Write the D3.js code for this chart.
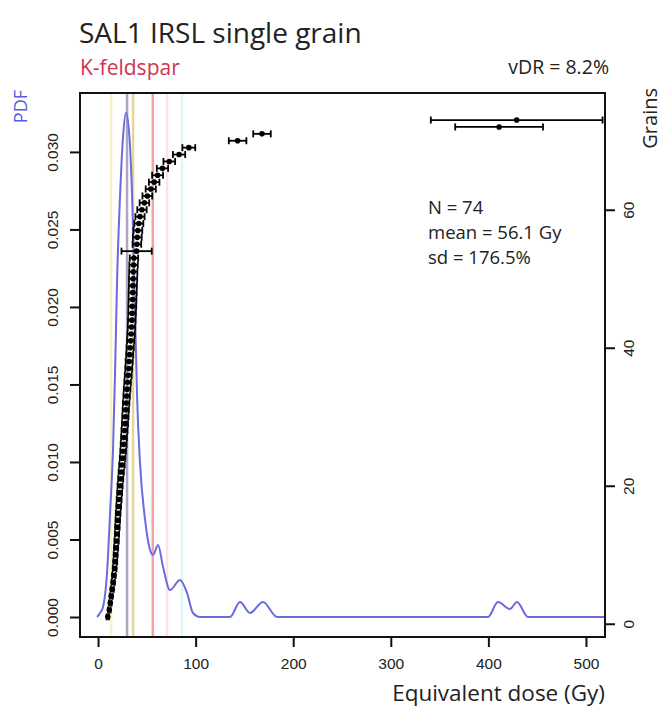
<!DOCTYPE html>
<html>
<head>
<meta charset="utf-8">
<script src="https://cdn.jsdelivr.net/npm/d3@7"></script>
<style>
  body { margin: 0; background: #fff; }
  text { font-family: "Open Sans", sans-serif; }
  .tick text { font-family: "Liberation Sans", Arial, sans-serif; font-size: 15.5px; fill: #222; }
</style>
</head>
<body>
<div id="chart"></div>
<script>
// ranked single grain De (Gy) and 1-sigma errors, grain 1 at the bottom
const doses = [10, 11.5, 12.5, 13.5, 14.5, 15.5, 16.2, 17, 17.6, 18, 18.5, 19, 19.4, 19.8,
  20.2, 20.6, 21.1, 21.6, 22.1, 22.6, 23.2, 23.8, 24.5, 25.1, 25.7, 26.2, 26.6, 27.1, 27.6,
  28, 28.4, 28.8, 29.3, 29.8, 30.3, 30.9, 31.4, 31.9, 32.4, 32.9, 33.4, 33.9, 34.3, 34.6,
  34.9, 35.1, 35.3, 35.5, 35.7, 35.9, 36.1, 36.4, 36.8, 39.5, 39.8, 40.2, 40.8, 41.8, 43,
  45, 47.5, 50.5, 54, 57.5, 61, 66, 73, 83, 93, 143, 168, 411, 429, 760]
const errors = [1.2, 1.3, 1.4, 1.5, 1.6, 1.7, 1.8, 1.9, 2, 2, 2.1, 2.2, 2.2, 2.3, 2.3, 2.4,
  2.4, 2.5, 2.5, 2.6, 2.6, 2.7, 2.8, 2.8, 2.9, 3, 3, 3.1, 3.1, 3.2, 3.2, 3.3, 3.3, 3.4, 3.4,
  3.5, 3.5, 3.6, 3.6, 3.7, 3.7, 3.8, 3.8, 3.9, 3.9, 4, 4, 4.1, 4.1, 4.2, 4.2, 4.3, 4.3, 15.5,
  4.4, 4.5, 4.5, 4.6, 4.7, 4.8, 4.9, 5, 5.2, 5.4, 5.6, 5.8, 6, 6.3, 6.6, 9, 9, 45, 88, 95]

// kernel density curve
const kdeDose = [-1, 2, 5.1, 9.2, 12.3, 15.4, 17.4, 19.5, 22.5, 25.6, 28.7, 32.8, 35.9, 37.9,
  40, 43, 48.2, 53.3, 56.4, 61.5, 66.6, 73.8, 84, 91.2, 97.3, 104.5, 135.2, 145.5, 155.7,
  169.1, 183.4, 399.6, 409.8, 422.1, 429.3, 440.6, 519.5]
const kdeDensity = [0, 0.00026, 0.00065, 0.00284, 0.00671, 0.01097, 0.01574, 0.02174, 0.0271,
  0.03097, 0.03252, 0.03032, 0.02497, 0.01961, 0.01419, 0.00994, 0.00626, 0.00432, 0.004,
  0.00465, 0.00323, 0.00174, 0.00239, 0.00155, 0.00026, 0, 0, 0.00097, 0.00026, 0.00097, 0,
  0, 0.00097, 0.00052, 0.00097, 0, 0]

// vertical statistic lines (Gy) and their colours
const statDose = [13.3, 29.7, 35.9, 56.1, 70.7, 86]
const statColor = ["#fbf3c8", "#aaa6c4", "#e4d79c", "#f4a2a2", "#fde2ea", "#dcf6fa"]

// tick labels
const doseTicks = [0, 100, 200, 300, 400, 500]
const pdfTicks = [0, 0.005, 0.010, 0.015, 0.020, 0.025, 0.030]
const grainTicks = [0, 20, 40, 60]
const statsText = ["N = 74", "mean = 56.1 Gy", "sd = 176.5%"]

let width = 669,
    height = 715,
    plot = { left: 80, right: 605, top: 93, bottom: 637 }

let svg = d3.select("#chart")
    .append("svg")
    .attr("width", width)
    .attr("height", height)

//scales
let x = d3.scaleLinear().domain([-18.5, 519.5]).range([plot.left, plot.right])
let yPdf = d3.scaleLinear().domain([-0.00129, 0.0338]).range([plot.bottom, plot.top])
let yGrain = d3.scaleLinear().domain([-1.92, 76.92]).range([plot.bottom, plot.top])

svg.append("clipPath")
    .attr("id", "clip")
    .append("rect")
    .attr("x", plot.left)
    .attr("y", plot.top)
    .attr("width", plot.right - plot.left)
    .attr("height", plot.bottom - plot.top)

let inner = svg.append("g").attr("clip-path", "url(#clip)")

//statistic lines
inner.selectAll(".stat")
    .data(statDose)
    .enter()
    .append("line")
    .attr("class", "stat")
    .attr("x1", d => x(d))
    .attr("x2", d => x(d))
    .attr("y1", plot.top)
    .attr("y2", plot.bottom)
    .style("stroke", (d, i) => statColor[i])
    .style("stroke-width", 2.5)

//pdf curve
let kde = kdeDose.map((d, i) => [d, kdeDensity[i]])
inner.append("path")
    .datum(kde)
    .attr("d", d3.line()
        .x(d => x(d[0]))
        .y(d => yPdf(d[1]))
        .curve(d3.curveMonotoneX))
    .style("fill", "none")
    .style("stroke", "#6b6bdf")
    .style("stroke-width", 2)

//error bars and points
let grains = doses.map((d, i) => ({ rank: i + 1, de: d, err: errors[i] }))
let bars = inner.selectAll(".grain")
    .data(grains)
    .enter()
    .append("g")
    .attr("class", "grain")
    .attr("transform", d => `translate(0,${yGrain(d.rank)})`)

bars.append("line")
    .attr("x1", d => x(d.de - d.err))
    .attr("x2", d => x(d.de + d.err))
    .style("stroke", "#000")
    .style("stroke-width", 1.8)
bars.selectAll(".cap")
    .data(d => [d.de - d.err, d.de + d.err])
    .enter()
    .append("line")
    .attr("class", "cap")
    .attr("x1", d => x(d))
    .attr("x2", d => x(d))
    .attr("y1", -3.5)
    .attr("y2", 3.5)
    .style("stroke", "#000")
    .style("stroke-width", 1.8)
bars.append("circle")
    .attr("cx", d => x(d.de))
    .attr("r", 2.8)
    .style("fill", "#000")

//frame
svg.append("rect")
    .attr("x", plot.left)
    .attr("y", plot.top)
    .attr("width", plot.right - plot.left)
    .attr("height", plot.bottom - plot.top)
    .style("fill", "none")
    .style("stroke", "#111")
    .style("stroke-width", 2)

//axes
let xAxis = svg.append("g")
    .attr("transform", `translate(0,${plot.bottom})`)
    .call(d3.axisBottom(x).tickValues(doseTicks).tickSize(10).tickSizeOuter(0))
xAxis.selectAll(".tick text").attr("y", 21)

let leftAxis = svg.append("g")
    .attr("transform", `translate(${plot.left},0)`)
    .call(d3.axisLeft(yPdf).tickValues(pdfTicks).tickFormat(d3.format(".3f")).tickSize(10).tickSizeOuter(0))
leftAxis.selectAll(".tick text")
    .attr("transform", "rotate(-90)")
    .attr("x", 0)
    .attr("y", -22)
    .attr("dy", 0)
    .attr("text-anchor", "middle")

let rightAxis = svg.append("g")
    .attr("transform", `translate(${plot.right},0)`)
    .call(d3.axisRight(yGrain).tickValues(grainTicks).tickSize(10).tickSizeOuter(0))
rightAxis.selectAll(".tick text")
    .attr("transform", "rotate(-90)")
    .attr("x", 0)
    .attr("y", 29)
    .attr("dy", 0)
    .attr("text-anchor", "middle")

svg.selectAll(".domain").remove()
svg.selectAll(".tick line").style("stroke", "#111").style("stroke-width", 2)

//titles
svg.append("text")
    .text("SAL1 IRSL single grain")
    .attr("x", 79)
    .attr("y", 43)
    .style("font-size", "28px")
    .style("fill", "#222")

svg.append("text")
    .text("K-feldspar")
    .attr("x", 80)
    .attr("y", 75)
    .style("font-size", "21px")
    .style("fill", "#cf3452")

svg.append("text")
    .text("vDR = 8.2%")
    .attr("x", 609)
    .attr("y", 74)
    .attr("text-anchor", "end")
    .style("font-size", "19.5px")
    .style("fill", "#222")

//axis titles
svg.append("text")
    .text("PDF")
    .attr("transform", "translate(27,90) rotate(-90)")
    .attr("text-anchor", "end")
    .style("font-size", "18px")
    .style("fill", "#5a5ae6")

svg.append("text")
    .text("Grains")
    .attr("transform", "translate(657,88) rotate(-90)")
    .attr("text-anchor", "end")
    .style("font-size", "20px")
    .style("fill", "#222")

svg.append("text")
    .text("Equivalent dose (Gy)")
    .attr("x", 605)
    .attr("y", 701)
    .attr("text-anchor", "end")
    .style("font-size", "22.5px")
    .style("fill", "#222")

//statistics
svg.selectAll(".stats")
    .data(statsText)
    .enter()
    .append("text")
    .attr("class", "stats")
    .text(d => d)
    .attr("x", 428)
    .attr("y", (d, i) => 214 + i * 25)
    .style("font-size", "18.5px")
    .style("fill", "#222")
</script>
</body>
</html>
